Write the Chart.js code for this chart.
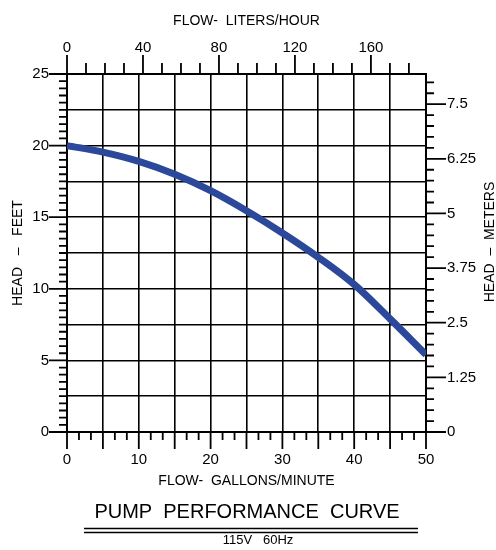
<!DOCTYPE html>
<html>
<head>
<meta charset="utf-8">
<script src="https://cdn.jsdelivr.net/npm/chart.js@4"></script>
<style>
  body { margin: 0; background: #fff; }
  canvas { display: block; }
</style>
</head>
<body>
<canvas id="pumpChart" width="496" height="550"></canvas>
<script>
// curve: flow in gallons/minute, head in feet
const flowGpm = [0, 5, 10, 15, 20, 25, 30, 35, 40, 45, 50];
const headFt = [20, 19.55, 18.9, 18.0, 16.85, 15.45, 13.9, 12.2, 10.3, 7.9, 5.4];

// tick labels
const gpmLabels = [0, 10, 20, 30, 40, 50];
const lphLabels = [0, 40, 80, 120, 160];
const feetLabels = [0, 5, 10, 15, 20, 25];
const meterLabels = ['0', '1.25', '2.5', '3.75', '5', '6.25', '7.5'];

Chart.defaults.font.family = '"Liberation Sans", Arial, sans-serif';
Chart.defaults.color = '#000';

const FONT_TICK = { size: 15 };
const FONT_TITLE = { size: 14 };

// small tick marks round the frame, placed through the chart's scales
const tickMarks = {
  id: 'tickMarks',
  afterDraw(chart) {
    const { ctx, chartArea: a, scales: s } = chart;
    ctx.save();
    ctx.strokeStyle = '#000';
    ctx.lineWidth = 1.8;
    ctx.beginPath();
    // bottom, gallons/minute
    for (let i = 0; i <= 30; i++) {
      const x = s.x.getPixelForValue(i * 5 / 3);
      const len = i % 3 === 0 ? 17 : 8;
      ctx.moveTo(x, a.bottom);
      ctx.lineTo(x, a.bottom + len);
    }
    // top, liters/hour
    for (let v = 0; v <= s.x2.max; v += 10) {
      const x = s.x2.getPixelForValue(v);
      const len = v % 40 === 0 ? 19 : 11;
      ctx.moveTo(x, a.top);
      ctx.lineTo(x, a.top - len);
    }
    // left, feet
    for (let i = 0; i <= 50; i++) {
      const y = s.y.getPixelForValue(i / 2);
      const len = i % 10 === 0 ? 18 : 8;
      ctx.moveTo(a.left, y);
      ctx.lineTo(a.left - len, y);
    }
    // right, meters
    for (let i = 0; i * 0.25 <= s.y2.max; i++) {
      const y = s.y2.getPixelForValue(i * 0.25);
      const len = i % 5 === 0 ? 20 : 8;
      ctx.moveTo(a.right, y);
      ctx.lineTo(a.right + len, y);
    }
    ctx.stroke();

    // right axis title, reading bottom to top like the left one
    ctx.fillStyle = '#000';
    ctx.font = '14px "Liberation Sans", Arial, sans-serif';
    ctx.textAlign = 'center';
    ctx.textBaseline = 'middle';
    ctx.save();
    ctx.translate(490, 242);
    ctx.rotate(-Math.PI / 2);
    ctx.fillText('HEAD  \u2013  METERS', 0, 0);
    ctx.restore();

    // caption under the chart
    ctx.font = '20px "Liberation Sans", Arial, sans-serif';
    ctx.fillText('PUMP  PERFORMANCE  CURVE', 247, 512);
    ctx.lineWidth = 1.3;
    ctx.beginPath();
    ctx.moveTo(84, 528.5); ctx.lineTo(418, 528.5);
    ctx.moveTo(84, 532.5); ctx.lineTo(418, 532.5);
    ctx.stroke();
    ctx.font = '13px "Liberation Sans", Arial, sans-serif';
    ctx.fillText('115V   60Hz', 258, 540);
    ctx.restore();
  }
};

new Chart(document.getElementById('pumpChart'), {
  type: 'line',
  data: {
    datasets: [{
      data: flowGpm.map((x, i) => ({ x: x, y: headFt[i] })),
      xAxisID: 'x',
      yAxisID: 'y',
      borderColor: '#2b489b',
      borderWidth: 7,
      borderCapStyle: 'butt',
      pointRadius: 0,
      cubicInterpolationMode: 'monotone',
      fill: false
    }]
  },
  options: {
    responsive: false,
    animation: false,
    layout: { padding: 0 },
    plugins: {
      legend: { display: false },
      tooltip: { enabled: false }
    },
    scales: {
      x: {
        type: 'linear',
        position: 'bottom',
        min: 0,
        max: 50,
        afterFit: s => { s.height = 118; },
        ticks: {
          stepSize: 5,
          padding: 19,
          maxRotation: 0,
          autoSkip: false,
          font: FONT_TICK,
          callback: v => gpmLabels.includes(v) ? String(v) : ''
        },
        grid: { color: '#000', lineWidth: 1.6, drawTicks: false },
        border: { color: '#000', width: 2 },
        title: {
          display: true,
          text: 'FLOW-  GALLONS/MINUTE',
          font: FONT_TITLE,
          padding: { top: 0, bottom: 60.6 }
        }
      },
      x2: {
        type: 'linear',
        position: 'top',
        min: 0,
        max: 189,
        afterFit: s => { s.height = 74; },
        ticks: {
          stepSize: 40,
          includeBounds: false,
          padding: 17,
          maxRotation: 0,
          font: FONT_TICK,
          callback: v => lphLabels.includes(v) ? String(v) : ''
        },
        grid: { display: false, drawTicks: false },
        border: { display: true, color: '#000', width: 2 },
        title: {
          display: true,
          text: 'FLOW-  LITERS/HOUR',
          font: FONT_TITLE,
          padding: { top: 12.6, bottom: 0 }
        }
      },
      y: {
        type: 'linear',
        position: 'left',
        min: 0,
        max: 25,
        afterFit: s => { s.width = 67; },
        ticks: {
          stepSize: 2.5,
          padding: 18,
          font: FONT_TICK,
          callback: v => feetLabels.includes(v) ? String(v) : ''
        },
        grid: { color: '#000', lineWidth: 1.6, drawTicks: false },
        border: { color: '#000', width: 2 },
        title: {
          display: true,
          text: 'HEAD   \u2013   FEET',
          font: FONT_TITLE,
          padding: { top: 9.6, bottom: 0 }
        }
      },
      y2: {
        type: 'linear',
        position: 'right',
        min: 0,
        max: 8.19,
        afterFit: s => { s.width = 70; },
        ticks: {
          stepSize: 1.25,
          includeBounds: false,
          padding: 21,
          font: FONT_TICK,
          callback: (v, i) => meterLabels[i] !== undefined ? meterLabels[i] : ''
        },
        grid: { display: false, drawTicks: false },
        border: { display: true, color: '#000', width: 2 }
      }
    }
  },
  plugins: [tickMarks]
});
</script>
</body>
</html>
